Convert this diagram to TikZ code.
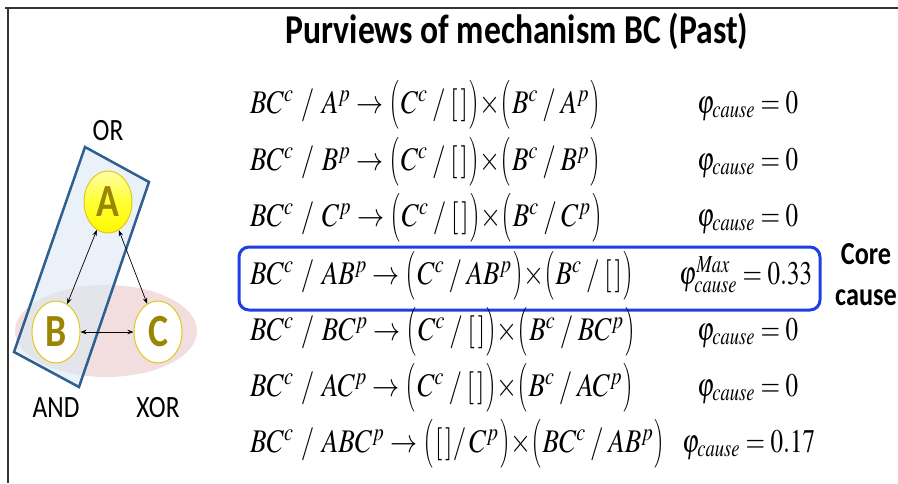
\documentclass[tikz,border=0pt]{standalone}
\usepackage{mathptmx}
\usepackage{amsmath}
\usepackage[no-math]{fontspec}
\usepackage{graphicx}
\newfontfamily\carlito{Carlito}
\usetikzlibrary{shapes.geometric,arrows.meta}
\definecolor{frameGray}{HTML}{333333}
\definecolor{olive}{HTML}{9A8600}
\definecolor{ringYellow}{HTML}{E2C81A}
\definecolor{rectBlue}{HTML}{2F5F8F}
\definecolor{rectFill}{HTML}{DCE8F5}
\definecolor{pinkFill}{HTML}{EDD3D3}
\definecolor{boxBlue}{HTML}{1E3FE6}
\newcommand\sq[1]{\scalebox{0.82}[1]{#1}}
\newcommand\sqq[1]{\scalebox{0.76}[1]{#1}}
\newcommand\mrow[1]{\sq{\fontsize{33}{40}\selectfont$#1$}}
\newcommand\prow[1]{\sqq{\fontsize{33}{40}\selectfont$#1$}}
\newcommand\lp{\mathopen{\vcenter{\hbox{\scalebox{0.62}[0.82]{$\Bigl($}}}}\mskip1mu}
\newcommand\rp{\mskip1mu\mathclose{\vcenter{\hbox{\scalebox{0.62}[0.82]{$\Bigr)$}}}}}
\newcommand\tm{\mathord{\times}}
\newcommand\slsh{\mskip3mu/\mskip3mu}
\newcommand\slbig{\mskip5mu/\mskip5mu}
\tikzset{
  mathrow/.style={anchor=base west, inner sep=0pt},
  phirow/.style={anchor=base west, inner sep=0pt},
  unit/.style={ellipse, minimum width=48pt, minimum height=62pt, inner sep=0pt, line width=1pt, draw=ringYellow},
  letter/.style={font=\carlito\bfseries\fontsize{46}{47}\selectfont, text=olive},
  gatelabel/.style={font=\carlito\fontsize{31}{32}\selectfont, inner sep=0pt},
  link/.style={<->, >={Stealth[length=6pt,width=4.5pt]}, line width=0.7pt}
}
\begin{document}
\begin{tikzpicture}[x=1pt,y=-1pt]
\useasboundingbox (0,0) rectangle (898,483);
% frame
\draw[frameGray, line width=2pt] (5,8) coordinate (f1) -- (898,8) coordinate (f2);
\draw[frameGray, line width=2pt] (8,8) coordinate (f3) -- (8,483) coordinate (f4);
% title
\node (title) at (517,31) {\sq{\carlito\bfseries\fontsize{41}{44}\selectfont Purviews of mechanism BC (Past)}};
% left diagram
\fill[pinkFill, opacity=0.75] (106,331) ellipse [x radius=91, y radius=46];
\filldraw[fill=rectFill, fill opacity=0.6, draw=rectBlue, line width=2.5pt, line join=miter]
  (85,147) -- (149,182) -- (79,387) -- (14,352) -- cycle;
\node[unit, top color=yellow!35, bottom color=yellow!95!orange, middle color=yellow!80] (A) at (108,202) {};
\node[letter] (Al) at (A) {\sq{A}};
\node[unit, fill=white, draw=ringYellow] (B) at (56,332) {};
\node[letter] (Bl) at (B) {\sq{B}};
\node[unit, fill=white, draw=ringYellow] (C) at (158,332) {};
\node[letter] (Cl) at (C) {\sq{C}};
\draw[link] (A) -- (B);
\draw[link] (A) -- (C);
\draw[link] (B) -- (C);
\node[gatelabel] (or) at (108,131) {\sq{OR}};
\node[gatelabel] (and) at (56,408) {\sq{AND}};
\node[gatelabel] (xor) at (158,408) {\sq{XOR}};
% highlight box
\draw[boxBlue, line width=3pt, rounded corners=10pt] (239,247) rectangle (820,310);
% rows
\node[mathrow] (r1) at (250,113) {\mrow{BC^{c}\slbig A^{p}\rightarrow\lp C^{c}\slsh[\,]\rp\tm\lp B^{c}\slsh A^{p}\rp}};
\node[mathrow] (r2) at (250,170) {\mrow{BC^{c}\slbig B^{p}\rightarrow\lp C^{c}\slsh[\,]\rp\tm\lp B^{c}\slsh B^{p}\rp}};
\node[mathrow] (r3) at (250,226) {\mrow{BC^{c}\slbig C^{p}\rightarrow\lp C^{c}\slsh[\,]\rp\tm\lp B^{c}\slsh C^{p}\rp}};
\node[mathrow] (r4) at (250,284) {\mrow{BC^{c}\slbig AB^{p}\rightarrow\lp C^{c}\slsh AB^{p}\rp\tm\lp B^{c}\slsh[\,]\rp}};
\node[mathrow] (r5) at (250,340) {\mrow{BC^{c}\slbig BC^{p}\rightarrow\lp C^{c}\slsh[\,]\rp\tm\lp B^{c}\slsh BC^{p}\rp}};
\node[mathrow] (r6) at (250,396) {\mrow{BC^{c}\slbig AC^{p}\rightarrow\lp C^{c}\slsh[\,]\rp\tm\lp B^{c}\slsh AC^{p}\rp}};
\node[mathrow] (r7) at (250,452) {\mrow{BC^{c}\slbig ABC^{p}\rightarrow\lp[\,]/\,C^{p}\rp\tm\lp BC^{c}\slsh AB^{p}\rp}};
% phi values
\node[phirow] (p1) at (697,113) {\prow{\varphi_{\mathit{cause}}=0}};
\node[phirow] (p2) at (697,170) {\prow{\varphi_{\mathit{cause}}=0}};
\node[phirow] (p3) at (697,226) {\prow{\varphi_{\mathit{cause}}=0}};
\node[phirow] (p4) at (679,284) {\prow{\varphi^{\mathit{Max}}_{\mathit{cause}}=0.33}};
\node[phirow] (p5) at (697,340) {\prow{\varphi_{\mathit{cause}}=0}};
\node[phirow] (p6) at (697,396) {\prow{\varphi_{\mathit{cause}}=0}};
\node[phirow] (p7) at (682,452) {\prow{\varphi_{\mathit{cause}}=0.17}};
% core cause
\node[font=\carlito\bfseries\fontsize{32}{34}\selectfont, inner sep=0pt, anchor=base] (core) at (866,264) {\sq{Core}};
\node[font=\carlito\bfseries\fontsize{32}{34}\selectfont, inner sep=0pt, anchor=base] (cause) at (866,305) {\sq{cause}};
\end{tikzpicture}
\end{document}
